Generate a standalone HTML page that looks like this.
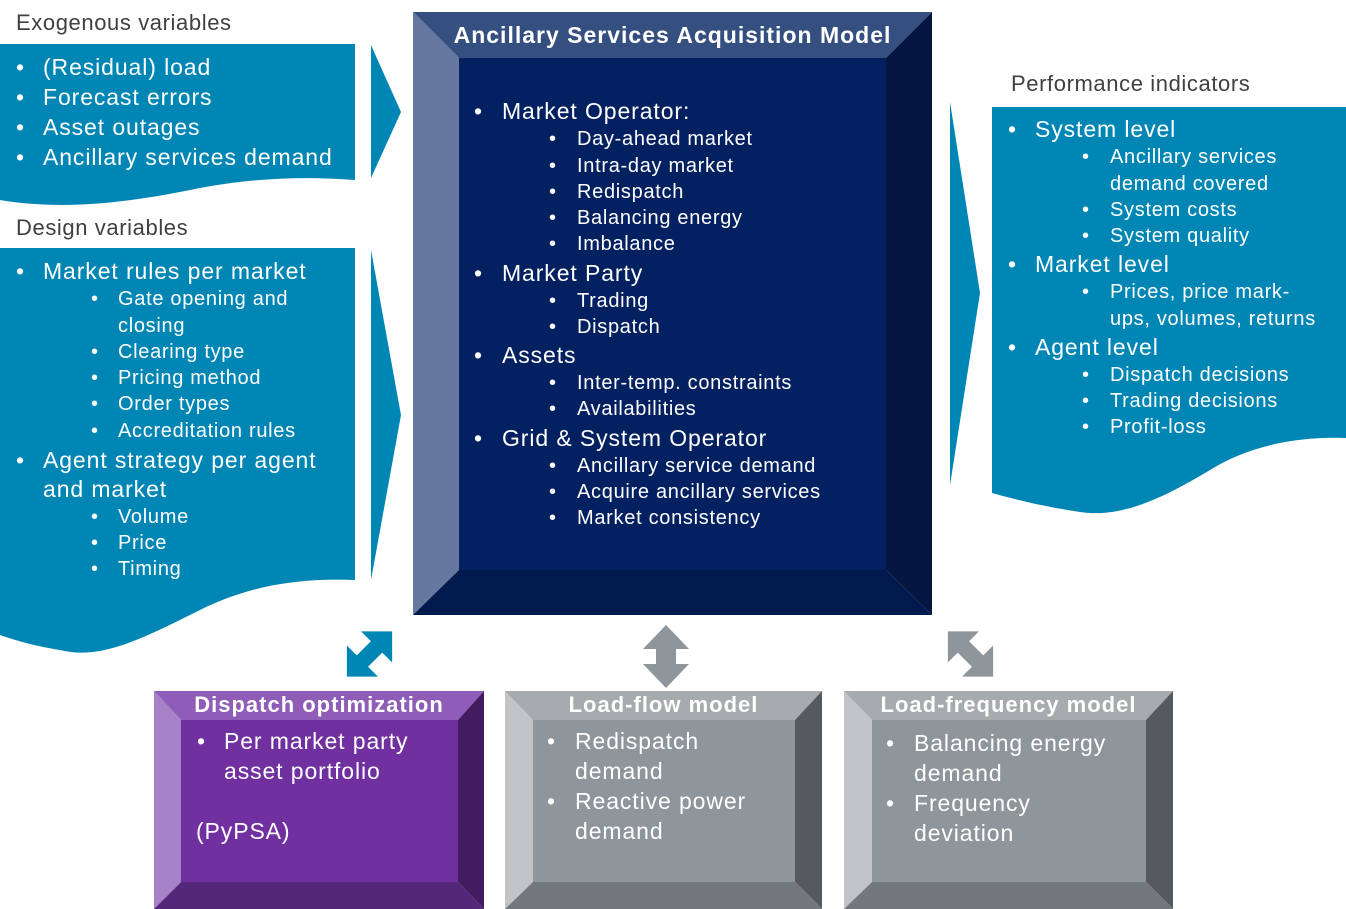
<!DOCTYPE html>
<html><head><meta charset="utf-8"><style>
body{margin:0;width:1346px;height:909px;overflow:hidden;background:#fff;font-family:"Liberation Sans",sans-serif;position:relative}
svg{position:absolute;left:0;top:0}
.t{position:absolute;white-space:nowrap;line-height:28px;height:28px;color:#fff}
.g{color:#404040}
.b{font-weight:bold;text-align:center;letter-spacing:1px}
.L .t{letter-spacing:0.9px}
.S .t{letter-spacing:0.7px}
</style></head><body>
<svg width="1346" height="909">
<path d="M0,44 H355 V180 C300,176 250,178 190,190 C120,204 60,210 0,200 Z" fill="#0086b4"/>
<path d="M0,248 H355 V580 C300,578 250,585 200,610 C140,640 100,660 60,650 C30,645 15,640 0,635 Z" fill="#0086b4"/>
<polygon points="371,45 401,112 371,178" fill="#0086b4"/>
<polygon points="371,250 401,415 371,580" fill="#0086b4"/>
<polygon points="950,102 980,293 950,485" fill="#0086b4"/>
<path d="M992,107 H1346 V438 C1300,436 1250,445 1210,470 C1160,500 1120,518 1080,512 C1040,506 1010,498 992,493 Z" fill="#0086b4"/>
<polygon points="413,12 932,12 886,58 459,58" fill="#354f80"/>
<polygon points="413,12 459,58 459,570 413,615" fill="#6677a0"/>
<polygon points="932,12 932,615 886,570 886,58" fill="#031540"/>
<polygon points="413,615 459,570 886,570 932,615" fill="#001a4d"/>
<rect x="459" y="58" width="427" height="512" fill="#032060"/>
<polygon points="154,691 484,691 458,720 181,720" fill="#8f5cb8"/>
<polygon points="154,691 181,720 181,882 154,909" fill="#a882c8"/>
<polygon points="484,691 484,909 458,882 458,720" fill="#421c5e"/>
<polygon points="154,909 181,882 458,882 484,909" fill="#55277a"/>
<rect x="181" y="720" width="277" height="162" fill="#7030a0"/>
<polygon points="505,691 822,691 795,720 533,720" fill="#a6abae"/>
<polygon points="505,691 533,720 533,882 505,909" fill="#c0c4c6"/>
<polygon points="822,691 822,909 795,882 795,720" fill="#555a5e"/>
<polygon points="505,909 533,882 795,882 822,909" fill="#72787b"/>
<rect x="533" y="720" width="262" height="162" fill="#8e969b"/>
<polygon points="844,691 1173,691 1146,720 872,720" fill="#a6abae"/>
<polygon points="844,691 872,720 872,882 844,909" fill="#c0c4c6"/>
<polygon points="1173,691 1173,909 1146,882 1146,720" fill="#555a5e"/>
<polygon points="844,909 872,882 1146,882 1173,909" fill="#72787b"/>
<rect x="872" y="720" width="274" height="162" fill="#8e969b"/>
<polygon transform="translate(369.5,654) rotate(45)" points="0,-32 22,-10 8,-10 8,10 22,10 0,32 -22,10 -8,10 -8,-10 -22,-10" fill="#0086b4"/>
<polygon points="666,625 689,649 676,649 676,664 689,664 666,688 643,664 656,664 656,649 643,649" fill="#8e969b"/>
<polygon transform="translate(970.5,654) rotate(-45)" points="0,-32 22,-10 8,-10 8,10 22,10 0,32 -22,10 -8,10 -8,-10 -22,-10" fill="#8e969b"/>
</svg>
<div class="t g" style="left:16px;top:9px;font-size:22px;letter-spacing:0.6px">Exogenous variables</div>
<div class="t g" style="left:16px;top:214px;font-size:22px;letter-spacing:0.6px">Design variables</div>
<div class="t g" style="left:1011px;top:70px;font-size:22px;letter-spacing:0.6px">Performance indicators</div>
<div class="L" style="position:absolute;left:0;top:0;font-size:23px">
<div class="t" style="left:16px;top:53px">•</div><div class="t" style="left:43px;top:53px">(Residual) load</div>
<div class="t" style="left:16px;top:83px">•</div><div class="t" style="left:43px;top:83px">Forecast errors</div>
<div class="t" style="left:16px;top:113px">•</div><div class="t" style="left:43px;top:113px">Asset outages</div>
<div class="t" style="left:16px;top:143px">•</div><div class="t" style="left:43px;top:143px">Ancillary services demand</div>
<div class="t" style="left:16px;top:257px">•</div><div class="t" style="left:43px;top:257px">Market rules per market</div>
<div class="t" style="left:16px;top:446px">•</div><div class="t" style="left:43px;top:446px">Agent strategy per agent</div>
<div class="t" style="left:43px;top:475px">and market</div>
</div>
<div class="S" style="position:absolute;left:0;top:0;font-size:20px">
<div class="t" style="left:91px;top:285px">•</div><div class="t" style="left:118px;top:285px">Gate opening and</div>
<div class="t" style="left:118px;top:312px">closing</div>
<div class="t" style="left:91px;top:338px">•</div><div class="t" style="left:118px;top:338px">Clearing type</div>
<div class="t" style="left:91px;top:364px">•</div><div class="t" style="left:118px;top:364px">Pricing method</div>
<div class="t" style="left:91px;top:390px">•</div><div class="t" style="left:118px;top:390px">Order types</div>
<div class="t" style="left:91px;top:417px">•</div><div class="t" style="left:118px;top:417px">Accreditation rules</div>
<div class="t" style="left:91px;top:503px">•</div><div class="t" style="left:118px;top:503px">Volume</div>
<div class="t" style="left:91px;top:529px">•</div><div class="t" style="left:118px;top:529px">Price</div>
<div class="t" style="left:91px;top:555px">•</div><div class="t" style="left:118px;top:555px">Timing</div>
</div>
<div class="t b" style="left:413px;width:519px;top:21px;font-size:23px">Ancillary Services Acquisition Model</div>
<div class="L" style="position:absolute;left:0;top:0;font-size:23px">
<div class="t" style="left:474px;top:97px">•</div><div class="t" style="left:502px;top:97px">Market Operator:</div>
<div class="t" style="left:474px;top:259px">•</div><div class="t" style="left:502px;top:259px">Market Party</div>
<div class="t" style="left:474px;top:341px">•</div><div class="t" style="left:502px;top:341px">Assets</div>
<div class="t" style="left:474px;top:424px">•</div><div class="t" style="left:502px;top:424px">Grid &amp; System Operator</div>
</div>
<div class="S" style="position:absolute;left:0;top:0;font-size:20px">
<div class="t" style="left:549px;top:125px">•</div><div class="t" style="left:577px;top:125px">Day-ahead market</div>
<div class="t" style="left:549px;top:152px">•</div><div class="t" style="left:577px;top:152px">Intra-day market</div>
<div class="t" style="left:549px;top:178px">•</div><div class="t" style="left:577px;top:178px">Redispatch</div>
<div class="t" style="left:549px;top:204px">•</div><div class="t" style="left:577px;top:204px">Balancing energy</div>
<div class="t" style="left:549px;top:230px">•</div><div class="t" style="left:577px;top:230px">Imbalance</div>
<div class="t" style="left:549px;top:287px">•</div><div class="t" style="left:577px;top:287px">Trading</div>
<div class="t" style="left:549px;top:313px">•</div><div class="t" style="left:577px;top:313px">Dispatch</div>
<div class="t" style="left:549px;top:369px">•</div><div class="t" style="left:577px;top:369px">Inter-temp. constraints</div>
<div class="t" style="left:549px;top:395px">•</div><div class="t" style="left:577px;top:395px">Availabilities</div>
<div class="t" style="left:549px;top:452px">•</div><div class="t" style="left:577px;top:452px">Ancillary service demand</div>
<div class="t" style="left:549px;top:478px">•</div><div class="t" style="left:577px;top:478px">Acquire ancillary services</div>
<div class="t" style="left:549px;top:504px">•</div><div class="t" style="left:577px;top:504px">Market consistency</div>
</div>
<div class="L" style="position:absolute;left:0;top:0;font-size:23px">
<div class="t" style="left:1008px;top:115px">•</div><div class="t" style="left:1035px;top:115px">System level</div>
<div class="t" style="left:1008px;top:250px">•</div><div class="t" style="left:1035px;top:250px">Market level</div>
<div class="t" style="left:1008px;top:333px">•</div><div class="t" style="left:1035px;top:333px">Agent level</div>
</div>
<div class="S" style="position:absolute;left:0;top:0;font-size:20px">
<div class="t" style="left:1082px;top:143px">•</div><div class="t" style="left:1110px;top:143px">Ancillary services</div>
<div class="t" style="left:1110px;top:170px">demand covered</div>
<div class="t" style="left:1082px;top:196px">•</div><div class="t" style="left:1110px;top:196px">System costs</div>
<div class="t" style="left:1082px;top:222px">•</div><div class="t" style="left:1110px;top:222px">System quality</div>
<div class="t" style="left:1082px;top:278px">•</div><div class="t" style="left:1110px;top:278px">Prices, price mark-</div>
<div class="t" style="left:1110px;top:305px">ups, volumes, returns</div>
<div class="t" style="left:1082px;top:361px">•</div><div class="t" style="left:1110px;top:361px">Dispatch decisions</div>
<div class="t" style="left:1082px;top:387px">•</div><div class="t" style="left:1110px;top:387px">Trading decisions</div>
<div class="t" style="left:1082px;top:413px">•</div><div class="t" style="left:1110px;top:413px">Profit-loss</div>
</div>
<div class="t b" style="left:154px;width:330px;top:691px;font-size:22px">Dispatch optimization</div>
<div class="t b" style="left:505px;width:317px;top:691px;font-size:22px">Load-flow model</div>
<div class="t b" style="left:844px;width:329px;top:691px;font-size:22px">Load-frequency model</div>
<div class="L" style="position:absolute;left:0;top:0;font-size:23px">
<div class="t" style="left:197px;top:727px">•</div><div class="t" style="left:224px;top:727px">Per market party</div>
<div class="t" style="left:224px;top:757px">asset portfolio</div>
<div class="t" style="left:196px;top:817px">(PyPSA)</div>
<div class="t" style="left:547px;top:727px">•</div><div class="t" style="left:575px;top:727px">Redispatch</div>
<div class="t" style="left:575px;top:757px">demand</div>
<div class="t" style="left:547px;top:787px">•</div><div class="t" style="left:575px;top:787px">Reactive power</div>
<div class="t" style="left:575px;top:817px">demand</div>
<div class="t" style="left:886px;top:729px">•</div><div class="t" style="left:914px;top:729px">Balancing energy</div>
<div class="t" style="left:914px;top:759px">demand</div>
<div class="t" style="left:886px;top:789px">•</div><div class="t" style="left:914px;top:789px">Frequency</div>
<div class="t" style="left:914px;top:819px">deviation</div>
</div>
</body></html>
